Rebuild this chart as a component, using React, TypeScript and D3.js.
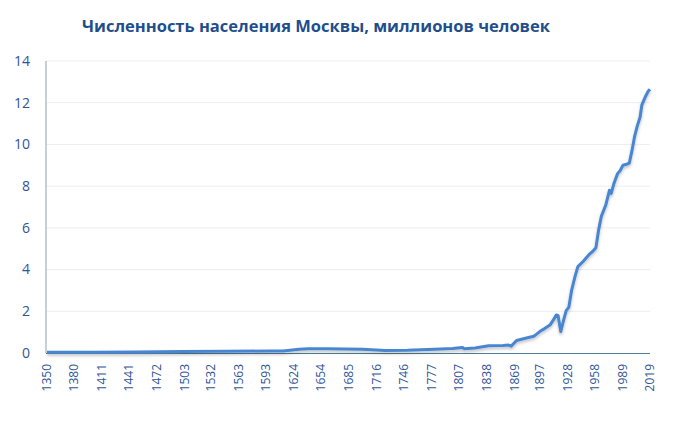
import React from "react";
import * as d3 from "d3";

// годы и численность (млн человек)
const years = [
  1350, 1400, 1450, 1500, 1550, 1600, 1612, 1630, 1640, 1660, 1680, 1700,
  1725, 1750, 1780, 1800, 1811, 1813, 1825, 1840, 1856, 1862, 1865, 1871,
  1882, 1890, 1897, 1902, 1908, 1912, 1915, 1917, 1920, 1923, 1926, 1929,
  1932, 1936, 1939, 1945, 1951, 1956, 1959, 1962, 1965, 1970, 1974, 1976,
  1979, 1983, 1986, 1989, 1993, 1996, 1999, 2002, 2005, 2008, 2010, 2012,
  2014, 2017, 2019,
];
const population = [
  0.03, 0.04, 0.05, 0.07, 0.08, 0.1, 0.1, 0.18, 0.2, 0.2, 0.19, 0.18,
  0.12, 0.13, 0.18, 0.22, 0.26, 0.2, 0.24, 0.35, 0.36, 0.38, 0.33, 0.6,
  0.72, 0.8, 1.04, 1.17, 1.34, 1.6, 1.82, 1.8, 1.03, 1.55, 2.03, 2.2,
  3.0, 3.7, 4.14, 4.4, 4.7, 4.9, 5.05, 5.9, 6.55, 7.1, 7.8, 7.65,
  8.13, 8.6, 8.75, 9.0, 9.05, 9.1, 9.7, 10.4, 10.9, 11.3, 11.9, 12.1,
  12.3, 12.55, 12.65,
];

const xTickYears = [
  1350, 1380, 1411, 1441, 1472, 1503, 1532, 1563, 1593, 1624, 1654, 1685,
  1716, 1746, 1777, 1807, 1838, 1869, 1897, 1928, 1958, 1989, 2019,
];
const yTicks = [0, 2, 4, 6, 8, 10, 12, 14];

const title = "Численность населения Москвы, миллионов человек";

const W = 680;
const H = 429;
const margin = { top: 61, right: 30, bottom: 76, left: 46 };

export default function App() {
  const x = d3
    .scaleLinear()
    .domain([1350, 2019])
    .range([margin.left + 1, W - margin.right]);
  const y = d3
    .scaleLinear()
    .domain([0, 14])
    .range([H - margin.bottom, margin.top]);

  const pts = years.map((yr, i) => ({ yr, v: population[i] }));
  const line = d3
    .line<{ yr: number; v: number }>()
    .x((d) => x(d.yr))
    .y((d) => y(d.v));

  const font = "'Open Sans', 'Noto Sans', sans-serif";
  const labelColor = "#2f5597";

  return (
    <svg
      width={W}
      height={H}
      style={{ position: "absolute", left: 0, top: 0, background: "#fff" }}
    >
      <defs>
        <filter id="shadow" x="-5%" y="-5%" width="110%" height="120%">
          <feDropShadow dx="0" dy="2" stdDeviation="1.5" floodColor="#000" floodOpacity="0.25" />
        </filter>
      </defs>

      <text
        x={316}
        y={32}
        textAnchor="middle"
        fontFamily={font}
        fontWeight="bold"
        fontSize={16.5}
        fill="#1f4e8c"
      >
        {title}
      </text>

      {/* сетка */}
      <g>
        {yTicks
          .filter((t) => t > 0)
          .map((t) => (
            <line
              key={t}
              x1={margin.left}
              x2={W - margin.right}
              y1={y(t)}
              y2={y(t)}
              stroke="#ededed"
              strokeWidth={1}
            />
          ))}
      </g>

      {/* ось Y */}
      <line
        x1={margin.left}
        x2={margin.left}
        y1={y(14)}
        y2={y(0)}
        stroke="#a6aebb"
        strokeWidth={1.2}
      />
      {yTicks.map((t) => (
        <text
          key={t}
          x={30}
          y={y(t)}
          dy="0.35em"
          textAnchor="end"
          fontFamily={font}
          fontSize={14}
          fill={labelColor}
        >
          {t}
        </text>
      ))}

      {/* ось X */}
      <line
        x1={margin.left}
        x2={W - margin.right}
        y1={y(0) + 0.5}
        y2={y(0) + 0.5}
        stroke="#4f7e97"
        strokeWidth={1.2}
      />
      {xTickYears.map((t) => (
        <text
          key={t}
          transform={`translate(${x(t)},364) rotate(-90)`}
          dy="0.35em"
          textAnchor="end"
          fontFamily={font}
          fontSize={12}
          fill={labelColor}
        >
          {t}
        </text>
      ))}

      <path
        d={line(pts) ?? ""}
        fill="none"
        stroke="#4a86d1"
        strokeWidth={3}
        strokeLinejoin="round"
        filter="url(#shadow)"
      />
    </svg>
  );
}
